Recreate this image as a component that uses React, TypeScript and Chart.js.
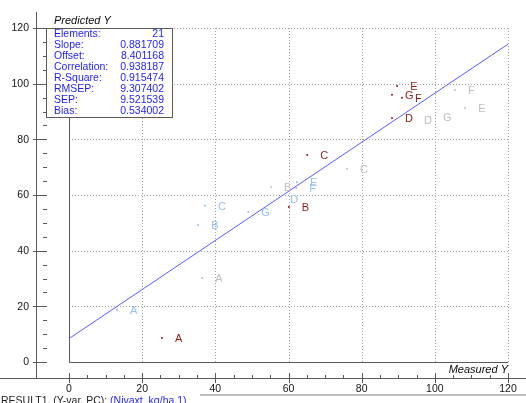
import React, { useEffect, useRef } from "react";
import { Chart, registerables } from "chart.js";

Chart.register(...registerables);

// Sample names shared by every group
const sampleLabels = ["A", "B", "C", "D", "E", "F", "G"];

// Group 1 (dark red)
const redMeasured = [25.4, 60.1, 65.1, 88.3, 89.7, 91.0, 88.3];
const redPredicted = [8.6, 55.7, 74.4, 87.7, 99.2, 94.9, 96.0];

// Group 2 (light blue)
const blueMeasured = [13.1, 35.3, 37.2, 56.9, 62.3, 62.1, 49.0];
const bluePredicted = [18.7, 49.2, 56.1, 58.6, 64.7, 62.5, 53.9];

// Group 3 (light grey)
const greyMeasured = [36.4, 55.2, 76.0, 93.5, 108.3, 105.5, 98.7];
const greyPredicted = [30.2, 62.9, 69.3, 87.0, 91.3, 97.7, 88.0];

// Regression statistics
const statNames = ["Elements:", "Slope:", "Offset:", "Correlation:", "R-Square:", "RMSEP:", "SEP:", "Bias:"];
const statValues = ["21", "0.881709", "8.401168", "0.938187", "0.915474", "9.307402", "9.521539", "0.534002"];
const slope = 0.881709;
const offset = 8.401168;

// Axis ticks
const xTicks = [0, 20, 40, 60, 80, 100, 120];
const yTicks = [0, 20, 40, 60, 80, 100, 120];
const minorStep = 5;
const axisMin = 0;
const axisMax = 120;

const FONT = "'Liberation Sans', Arial, Helvetica, sans-serif";
const RED = "rgb(140,28,28)";
const BLUE_PT = "rgb(150,192,240)";
const GREY_PT = "rgb(190,190,190)";
const STAT_BLUE = "rgb(30,30,250)";
const FRAME = "rgb(90,90,90)";

function points(xs: number[], ys: number[]) {
  return xs.map((x, i) => ({ x, y: ys[i] }));
}

const overlayPlugin = {
  id: "overlay",
  beforeDatasetsDraw(chart: any) {
    const ctx = chart.ctx as CanvasRenderingContext2D;
    const { left, right, top, bottom } = chart.chartArea;
    const xs = chart.scales.x;
    const ys = chart.scales.y;
    ctx.save();
    // dotted grid
    ctx.strokeStyle = "rgb(160,160,160)";
    ctx.lineWidth = 1;
    ctx.setLineDash([1, 2]);
    xTicks.forEach((v) => {
      if (v === axisMin) return;
      const px = Math.round(xs.getPixelForValue(v)) + 0.5;
      ctx.beginPath();
      ctx.moveTo(px, top);
      ctx.lineTo(px, bottom);
      ctx.stroke();
    });
    yTicks.forEach((v) => {
      if (v === axisMin) return;
      const py = Math.round(ys.getPixelForValue(v)) + 0.5;
      ctx.beginPath();
      ctx.moveTo(left, py);
      ctx.lineTo(right, py);
      ctx.stroke();
    });
    ctx.setLineDash([]);
    // solid frame on the left and bottom of the plot
    ctx.strokeStyle = FRAME;
    ctx.beginPath();
    ctx.moveTo(Math.round(left) + 0.5, top);
    ctx.lineTo(Math.round(left) + 0.5, Math.round(bottom) + 0.5);
    ctx.lineTo(right, Math.round(bottom) + 0.5);
    ctx.stroke();
    ctx.restore();
  },
  afterDatasetsDraw(chart: any) {
    const ctx = chart.ctx as CanvasRenderingContext2D;
    const xs = chart.scales.x;
    const ys = chart.scales.y;
    const W = chart.width;
    ctx.save();

    // sample letters next to each point
    ctx.font = `11px ${FONT}`;
    ctx.textAlign = "left";
    ctx.textBaseline = "middle";
    [0, 1, 2].forEach((di) => {
      const meta = chart.getDatasetMeta(di);
      const color = chart.data.datasets[di].borderColor;
      ctx.fillStyle = color;
      meta.data.forEach((el: any, i: number) => {
        ctx.fillText(sampleLabels[i], el.x + 13, el.y + 1);
      });
    });

    // vertical axis
    const yAxisX = 36.5;
    ctx.strokeStyle = FRAME;
    ctx.lineWidth = 1;
    ctx.beginPath();
    ctx.moveTo(yAxisX, 12);
    ctx.lineTo(yAxisX, 378);
    ctx.stroke();
    for (let v = axisMin; v <= axisMax; v += minorStep) {
      const py = Math.round(ys.getPixelForValue(v)) + 0.5;
      const major = yTicks.includes(v);
      ctx.beginPath();
      ctx.moveTo(major ? 33 : 43, py);
      ctx.lineTo(47, py);
      ctx.stroke();
    }
    ctx.fillStyle = "rgb(20,20,20)";
    ctx.font = `10.5px ${FONT}`;
    ctx.textAlign = "right";
    ctx.textBaseline = "middle";
    yTicks.forEach((v) => {
      ctx.fillText(String(v), 29, ys.getPixelForValue(v) + 0.5);
    });

    // horizontal axis
    const xAxisY = 378.5;
    ctx.beginPath();
    ctx.moveTo(0, xAxisY);
    ctx.lineTo(W, xAxisY);
    ctx.stroke();
    for (let v = axisMin; v <= axisMax; v += minorStep) {
      const px = Math.round(xs.getPixelForValue(v)) + 0.5;
      const major = xTicks.includes(v);
      ctx.beginPath();
      ctx.moveTo(px, major ? 373 : 375);
      ctx.lineTo(px, major ? 383 : 378);
      ctx.stroke();
    }
    ctx.textAlign = "center";
    xTicks.forEach((v) => {
      ctx.fillText(String(v), xs.getPixelForValue(v), 389);
    });

    // axis titles
    ctx.font = `italic 11px ${FONT}`;
    ctx.fillStyle = "rgb(10,10,10)";
    ctx.textAlign = "left";
    ctx.fillText("Predicted Y", 54, 21);
    ctx.textAlign = "right";
    ctx.fillText("Measured Y", 508, 370);

    // statistics box
    const bx = 46.5, by = 28.5, bw = 126, bh = 89;
    ctx.fillStyle = "#ffffff";
    ctx.fillRect(bx, by, bw, bh);
    ctx.strokeStyle = FRAME;
    ctx.strokeRect(bx, by, bw, bh);
    ctx.font = `10.5px ${FONT}`;
    ctx.fillStyle = STAT_BLUE;
    statNames.forEach((name, i) => {
      const ty = 34.5 + i * 10.9;
      ctx.textAlign = "left";
      ctx.fillText(name, 54, ty);
      ctx.textAlign = "right";
      ctx.fillText(statValues[i], 164, ty);
    });

    // status line at the bottom
    ctx.textBaseline = "alphabetic";
    ctx.textAlign = "left";
    ctx.font = `10.5px ${FONT}`;
    ctx.fillStyle = "rgb(30,30,30)";
    const head = "RESULT1, (Y-var, PC): ";
    ctx.fillText(head, 1, 404);
    const hw = ctx.measureText(head).width;
    ctx.fillStyle = STAT_BLUE;
    ctx.fillText("(Nivaxt_kg/ha,1)", 1 + hw, 404);
    ctx.strokeStyle = "rgb(190,190,190)";
    ctx.lineWidth = 2;
    ctx.beginPath();
    ctx.moveTo(200, 395);
    ctx.lineTo(W, 395);
    ctx.stroke();

    ctx.restore();
  },
};

export default function App() {
  const canvasRef = useRef<HTMLCanvasElement | null>(null);

  useEffect(() => {
    document.body.style.margin = "0";
    const canvas = canvasRef.current;
    if (!canvas) return;
    const fitLine = [
      { x: axisMin, y: offset + slope * axisMin },
      { x: axisMax, y: offset + slope * axisMax },
    ];
    const chart = new Chart(canvas, {
      type: "scatter",
      data: {
        datasets: [
          {
            label: "red",
            data: points(redMeasured, redPredicted),
            borderColor: RED,
            backgroundColor: RED,
            pointRadius: 1,
            pointBorderWidth: 0,
          },
          {
            label: "blue",
            data: points(blueMeasured, bluePredicted),
            borderColor: BLUE_PT,
            backgroundColor: BLUE_PT,
            pointRadius: 1,
            pointBorderWidth: 0,
          },
          {
            label: "grey",
            data: points(greyMeasured, greyPredicted),
            borderColor: GREY_PT,
            backgroundColor: GREY_PT,
            pointRadius: 1,
            pointBorderWidth: 0,
          },
          {
            type: "line",
            label: "fit",
            data: fitLine,
            borderColor: "rgb(90,90,255)",
            borderWidth: 1,
            pointRadius: 0,
            fill: false,
          } as any,
        ],
      },
      options: {
        responsive: false,
        animation: false,
        devicePixelRatio: 1,
        layout: { padding: { left: 69, right: 18, top: 28, bottom: 41 } },
        plugins: {
          legend: { display: false },
          tooltip: { enabled: false },
        },
        scales: {
          x: { type: "linear", min: axisMin, max: axisMax, display: false },
          y: { type: "linear", min: axisMin, max: axisMax, display: false },
        },
      },
      plugins: [overlayPlugin],
    });
    return () => chart.destroy();
  }, []);

  return (
    <div style={{ position: "fixed", left: 0, top: 0, width: 526, height: 403, background: "#fff" }}>
      <canvas ref={canvasRef} width={526} height={403} style={{ display: "block" }} />
    </div>
  );
}
